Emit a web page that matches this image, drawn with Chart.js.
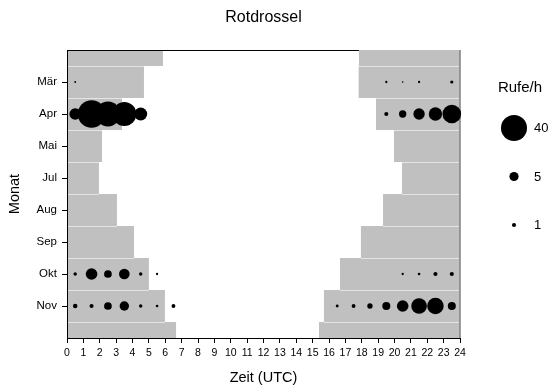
<!DOCTYPE html>
<html>
<head>
<meta charset="utf-8">
<script src="https://cdn.jsdelivr.net/npm/chart.js@4/dist/chart.umd.min.js"></script>
<style>
html, body { margin: 0; padding: 0; background: #fff; }
#wrap { width: 553px; height: 390px; }
</style>
</head>
<body>
<div id="wrap"><canvas id="chart"></canvas></div>
<script>
// Rotdrossel: Rufe pro Stunde, nach Monat und Uhrzeit (UTC)
const months = ['Mär', 'Apr', 'Mai', 'Jul', 'Aug', 'Sep', 'Okt', 'Nov'];
const hourMid = [0.5, 1.5, 2.5, 3.5, 4.5, 5.5, 6.5, 7.5, 8.5, 9.5, 10.5, 11.5,
                 12.5, 13.5, 14.5, 15.5, 16.5, 17.5, 18.5, 19.5, 20.5, 21.5, 22.5, 23.5];

const callsMar = [0.2, null, null, null, null, null, null, null, null, null, null, null,
                  null, null, null, null, null, null, null, 0.3, 0.15, 0.3, null, 0.6];
const callsApr = [8, 45, 37, 34, 10, null, null, null, null, null, null, null,
                  null, null, null, null, null, null, null, 1, 3.2, 7.6, 10.5, 20.5];
const callsOkt = [0.7, 8, 3.5, 6.7, 0.7, 0.3, null, null, null, null, null, null,
                  null, null, null, null, null, null, null, null, 0.3, 0.4, 1, 1];
const callsNov = [1.2, 1.0, 3.5, 5.2, 0.7, 0.4, 0.9, null, null, null, null, null,
                  null, null, null, null, 0.5, 0.9, 1.7, 3.8, 8, 14.4, 16, 3.8];

// rows with calls (month name -> values per hour)
const callRows = [['Mär', callsMar], ['Apr', callsApr], ['Okt', callsOkt], ['Nov', callsNov]];

// night shading: band limits on the month axis, end of morning night and start of evening night (h UTC)
const bandEdges = [0, 0.5, 1.5, 2.5, 3.5, 4.5, 5.5, 6.5, 7.5, 8.5, 9];
const nightEnd = [5.86, 4.70, 3.36, 2.14, 1.95, 3.05, 4.09, 5.0, 5.98, 6.66];
const nightStart = [17.83, 17.81, 18.87, 19.97, 20.46, 19.30, 17.95, 16.67, 15.69, 15.39];

const legendValues = [40, 5, 1];

const FONT = "'Liberation Sans', Arial, sans-serif";
Chart.defaults.font.family = FONT;
Chart.defaults.color = '#000';

// bubble area proportional to calls per hour
function bubbleRadius(v) {
    return 2.06 * Math.sqrt(v);
}

const points = [];
callRows.forEach(([month, values]) => {
    const y = months.indexOf(month) + 1;
    values.forEach((v, i) => {
        if (v !== null) points.push({ x: hourMid[i], y: y, r: bubbleRadius(v) });
    });
});

const nightBands = {
    id: 'nightBands',
    beforeDraw(chart) {
        const { ctx, scales: { x, y } } = chart;
        const x0 = x.getPixelForValue(0);
        const x24 = x.getPixelForValue(24);
        ctx.save();
        ctx.fillStyle = '#c0c0c0';
        for (let i = 0; i < nightEnd.length; i++) {
            const top = y.getPixelForValue(bandEdges[i]);
            const bottom = y.getPixelForValue(bandEdges[i + 1]);
            ctx.fillRect(x0, top, x.getPixelForValue(nightEnd[i]) - x0, bottom - top);
            const xs = x.getPixelForValue(nightStart[i]);
            ctx.fillRect(xs, top, x24 - xs, bottom - top);
        }
        // light separators between the bands
        ctx.strokeStyle = '#e4e4e4';
        ctx.lineWidth = 1;
        for (let i = 0; i < nightEnd.length - 1; i++) {
            const yy = Math.round(y.getPixelForValue(bandEdges[i + 1])) + 0.5;
            const l = x.getPixelForValue(Math.min(nightEnd[i], nightEnd[i + 1]));
            const r = x.getPixelForValue(Math.max(nightStart[i], nightStart[i + 1]));
            ctx.beginPath();
            ctx.moveTo(x0 + 1, yy);
            ctx.lineTo(l, yy);
            ctx.moveTo(r, yy);
            ctx.lineTo(x24 - 1, yy);
            ctx.stroke();
        }
        // frame: top line over the white part, dark right edge
        const yTop = Math.round(y.getPixelForValue(0)) + 0.5;
        ctx.strokeStyle = '#000';
        ctx.beginPath();
        ctx.moveTo(x0, yTop);
        ctx.lineTo(x.getPixelForValue(nightStart[0]), yTop);
        ctx.stroke();
        ctx.strokeStyle = '#808080';
        ctx.lineWidth = 1.5;
        ctx.beginPath();
        ctx.moveTo(x24, y.getPixelForValue(0));
        ctx.lineTo(x24, y.getPixelForValue(9));
        ctx.stroke();
        ctx.restore();
    }
};

const sizeLegend = {
    id: 'sizeLegend',
    afterDraw(chart) {
        const ctx = chart.ctx;
        const cx = 514;
        ctx.save();
        ctx.fillStyle = '#000';
        ctx.font = '15px ' + FONT;
        ctx.textAlign = 'center';
        ctx.textBaseline = 'middle';
        ctx.fillText('Rufe/h', 520, 88);
        ctx.font = '13px ' + FONT;
        ctx.textAlign = 'left';
        legendValues.forEach((v, i) => {
            const cy = 128 + i * 48.5;
            ctx.beginPath();
            ctx.arc(cx, cy, bubbleRadius(v), 0, Math.PI * 2);
            ctx.fill();
            ctx.fillText(String(v), 534, cy + 0.5);
        });
        ctx.restore();
    }
};

new Chart(document.getElementById('chart'), {
    type: 'bubble',
    data: {
        datasets: [{
            label: 'Rufe/h',
            data: points,
            backgroundColor: '#000',
            borderWidth: 0,
            hoverRadius: 0,
            clip: false
        }]
    },
    options: {
        responsive: true,
        maintainAspectRatio: false,
        animation: false,
        events: [],
        layout: { padding: { left: 0, right: 93, top: 0, bottom: 0 } },
        scales: {
            x: {
                type: 'linear',
                min: 0,
                max: 24,
                ticks: { stepSize: 1, font: { size: 10.5 }, padding: 4, maxRotation: 0, autoSkip: false },
                grid: { drawOnChartArea: false, drawTicks: true, tickLength: 5, tickColor: '#000' },
                border: { color: '#000', width: 1 },
                title: { display: true, text: 'Zeit (UTC)', font: { size: 14.5 }, padding: { top: 0, bottom: 3 } },
                afterFit(s) { s.height = 52; }
            },
            y: {
                type: 'linear',
                min: 0,
                max: 9,
                reverse: true,
                afterBuildTicks(s) { s.ticks = months.map((m, i) => ({ value: i + 1 })); },
                ticks: {
                    autoSkip: false,
                    font: { size: 11.5 },
                    padding: 5,
                    callback: v => months[v - 1]
                },
                grid: { drawOnChartArea: false, drawTicks: true, tickLength: 5, tickColor: '#000' },
                border: { color: '#000', width: 1 },
                title: { display: true, text: 'Monat', font: { size: 14.5 }, padding: { top: 6, bottom: 0 } },
                afterFit(s) { s.width = 67; }
            }
        },
        plugins: {
            legend: { display: false },
            tooltip: { enabled: false },
            title: {
                display: true,
                text: 'Rotdrossel',
                fullSize: false,
                font: { size: 16, weight: 'normal' },
                color: '#000',
                padding: { top: 8, bottom: 22.8 }
            }
        }
    },
    plugins: [nightBands, sizeLegend]
});
</script>
</body>
</html>
